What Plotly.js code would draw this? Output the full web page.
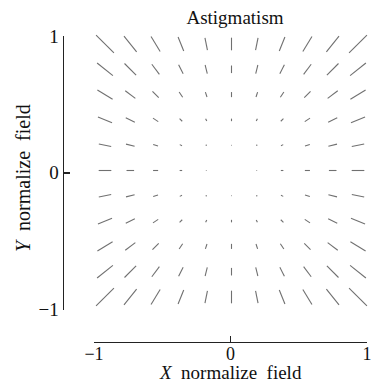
<!DOCTYPE html>
<html>
<head>
<meta charset="utf-8">
<script src="https://cdn.plot.ly/plotly-3.0.1.min.js"></script>
<style>
  html, body { margin: 0; padding: 0; background: #fff; }
  #chart { width: 374px; height: 383px; }
</style>
</head>
<body>
<div id="chart"></div>
<script>
// Normalized field sample positions (columns left->right, rows top->bottom)
const fieldX = [-1, -0.8, -0.6, -0.4, -0.2, 0, 0.2, 0.4, 0.6, 0.8, 1];
const fieldY = [1, 0.8, 0.6, 0.4, 0.2, 0, -0.2, -0.4, -0.6, -0.8, -1];

// Astigmatism line length (normalized field units), rows follow fieldY
const astigLen = [
  [0.20, 0.16, 0.14, 0.12, 0.10, 0.10, 0.10, 0.12, 0.14, 0.16, 0.20],
  [0.16, 0.13, 0.10, 0.08, 0.07, 0.06, 0.07, 0.08, 0.10, 0.13, 0.16],
  [0.14, 0.10, 0.07, 0.05, 0.04, 0.04, 0.04, 0.05, 0.07, 0.10, 0.14],
  [0.12, 0.08, 0.05, 0.03, 0.02, 0.02, 0.02, 0.03, 0.05, 0.08, 0.12],
  [0.10, 0.07, 0.04, 0.02, 0.01, 0.005, 0.01, 0.02, 0.04, 0.07, 0.10],
  [0.10, 0.06, 0.04, 0.02, 0.005, 0.00, 0.005, 0.02, 0.04, 0.06, 0.10],
  [0.10, 0.07, 0.04, 0.02, 0.01, 0.005, 0.01, 0.02, 0.04, 0.07, 0.10],
  [0.12, 0.08, 0.05, 0.03, 0.02, 0.02, 0.02, 0.03, 0.05, 0.08, 0.12],
  [0.14, 0.10, 0.07, 0.05, 0.04, 0.04, 0.04, 0.05, 0.07, 0.10, 0.14],
  [0.16, 0.13, 0.10, 0.08, 0.07, 0.06, 0.07, 0.08, 0.10, 0.13, 0.16],
  [0.20, 0.16, 0.14, 0.12, 0.10, 0.10, 0.10, 0.12, 0.14, 0.16, 0.20]
];

// Axis tick labels
const axisTickVals = [-1, 0, 1];
const axisTickText = ['\u22121', '0', '1'];

// Build segments (radial orientation) from the data
const segX = [], segY = [];
for (let i = 0; i < fieldY.length; i++) {
  for (let j = 0; j < fieldX.length; j++) {
    const x = fieldX[j], y = fieldY[i], L = astigLen[i][j];
    const r = Math.hypot(x, y);
    if (r === 0 || L <= 0) continue;
    const ux = x / r, uy = y / r, h = L / 2;
    segX.push(x - ux * h, x + ux * h, null);
    segY.push(y - uy * h, y + uy * h, null);
  }
}

const W = 374, H = 383;
const serif = 'Liberation Serif, Times New Roman, serif';

const dummy = (xa, ya) => ({
  type: 'scatter', mode: 'markers',
  x: axisTickVals, y: axisTickVals, xaxis: xa, yaxis: ya,
  marker: { size: 1, opacity: 0 },
  hoverinfo: 'skip', showlegend: false
});

const traces = [
  {
    type: 'scatter', mode: 'lines',
    x: segX, y: segY, xaxis: 'x', yaxis: 'y',
    line: { color: '#707070', width: 1.1 },
    hoverinfo: 'skip', showlegend: false
  },
  dummy('x2', 'y2'),
  dummy('x3', 'y3')
];

// pixel placement helpers for the data axes
const pxPerUnit = 126.5;
const xAt = -1, xPx = 105;   // x=-1 at 105px
const yAt = 1, yPx = 44;     // y=1 at 44px from top

const axisStyle = {
  showline: true, linecolor: '#222', linewidth: 1.5,
  ticks: 'inside', ticklen: 6, tickwidth: 1.5, tickcolor: '#222',
  tickvals: axisTickVals, ticktext: axisTickText,
  tickfont: { family: serif, size: 19, color: '#111' },
  showgrid: false, zeroline: false, range: [-1, 1], autorange: false, fixedrange: true
};
const hiddenAxis = { visible: false, range: [-1, 1], autorange: false, fixedrange: true };

const layout = {
  width: W, height: H,
  margin: { l: 0, r: 0, t: 0, b: 0, pad: 0 },
  paper_bgcolor: '#fff', plot_bgcolor: 'rgba(0,0,0,0)',
  showlegend: false,
  title: {
    text: 'Astigmatism',
    font: { family: serif, size: 19, color: '#111' },
    x: 235 / W, xanchor: 'center', xref: 'paper',
    y: 1 - 17 / H, yanchor: 'middle', yref: 'paper'
  },
  xaxis: {
    visible: false, domain: [0, 1], fixedrange: true,
    range: [xAt - xPx / pxPerUnit, 1 + (W - (xPx + 2 * pxPerUnit)) / pxPerUnit]
  },
  yaxis: {
    visible: false, domain: [0, 1], fixedrange: true,
    range: [-1 - (H - (yPx + 2 * pxPerUnit)) / pxPerUnit, yAt + yPx / pxPerUnit]
  },
  // visible Y axis: left edge of subplot x2/y2
  xaxis2: Object.assign({}, hiddenAxis, { domain: [64 / W, 1], anchor: 'y2' }),
  yaxis2: Object.assign({}, axisStyle, {
    domain: [(H - 309.5) / H, (H - 36) / H], anchor: 'x2', side: 'left'
  }),
  // visible X axis: bottom edge of subplot x3/y3
  xaxis3: Object.assign({}, axisStyle, {
    domain: [94 / W, 367 / W], anchor: 'y3', side: 'bottom', ticklabelstandoff: -5,
    tickfont: { family: serif, size: 18, color: '#111' }
  }),
  yaxis3: Object.assign({}, hiddenAxis, { domain: [(H - 341.5) / H, 1], anchor: 'x3' }),
  annotations: [
    {
      text: '<i>X</i>&nbsp; normalize&nbsp; field', xref: 'paper', yref: 'paper',
      x: 230 / W, y: (H - 372) / H, xanchor: 'center', yanchor: 'middle',
      showarrow: false, font: { family: serif, size: 19, color: '#111' }
    },
    {
      text: '<i>Y</i>&nbsp; normalize&nbsp; field', xref: 'paper', yref: 'paper',
      x: 23 / W, y: (H - 178) / H, xanchor: 'center', yanchor: 'middle',
      textangle: -90,
      showarrow: false, font: { family: serif, size: 20, color: '#111' }
    }
  ]
};

Plotly.newPlot('chart', traces, layout, { displayModeBar: false, staticPlot: true });
</script>
</body>
</html>
